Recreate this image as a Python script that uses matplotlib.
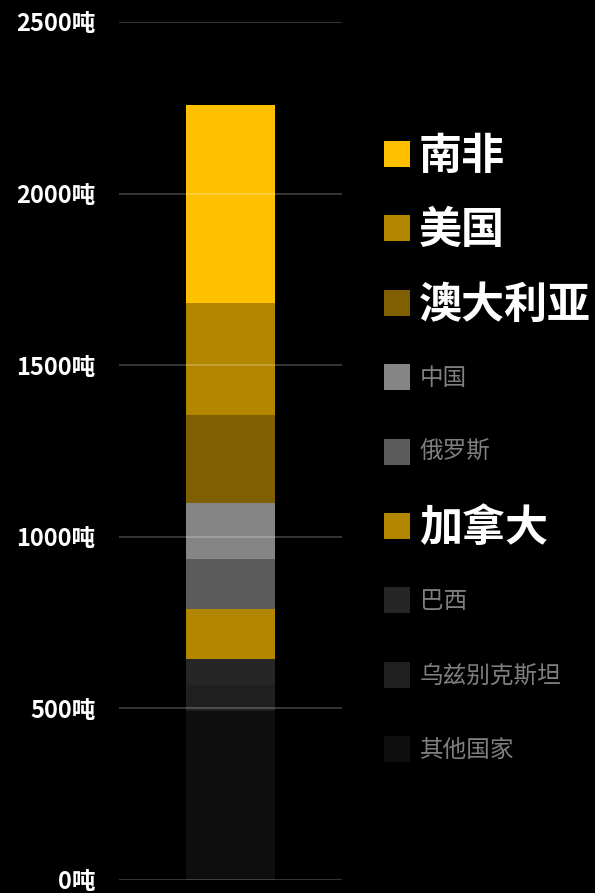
import matplotlib.pyplot as plt
import numpy as np

plt.rcParams['font.family'] = ['Noto Sans CJK SC', 'DejaVu Sans']

# ---------------------------------------------------------------------------
# Data (bottom to top of the stack)
# ---------------------------------------------------------------------------
countries = ['其他国家', '乌兹别克斯坦', '巴西', '加拿大', '俄罗斯',
             '中国', '澳大利亚', '美国', '南非']
values    = [493, 75, 76, 145, 146, 163, 256, 327, 577]
colors    = ['#0e0e0e', '#202020', '#262626', '#b38600', '#5c5c5c',
             '#858585', '#7f5f00', '#b38600', '#ffc000']
highlight = [False, False, False, True, False, False, True, True, True]

yticks      = [0, 500, 1000, 1500, 2000, 2500]
ytick_names = [f'{v}吨' for v in yticks]

# ---------------------------------------------------------------------------
# Plot
# ---------------------------------------------------------------------------
fig = plt.figure(figsize=(5.95, 8.93), dpi=100, facecolor='black')
ax = fig.add_axes([0.2, 0.0149, 0.375, 0.9605], facecolor='black')

bottom = 0
for name, v, c in zip(countries, values, colors):
    ax.bar(0, v, bottom=bottom, width=0.4, color=c, linewidth=0, zorder=2)
    bottom += v

ax.set_xlim(-0.5, 0.5)
ax.set_ylim(0, 2500)
ax.set_xticks([])
ax.set_yticks(yticks)
ax.set_yticklabels(ytick_names, color='white', fontsize=17, fontweight='bold')
ax.tick_params(axis='y', length=0, pad=17)
for s in ax.spines.values():
    s.set_visible(False)
ax.grid(True, axis='y', color='white', alpha=0.25, linewidth=1.2, zorder=3)
ax.set_axisbelow(False)

# Legend, top row = top of the stack
row_y0 = 154
row_step = 74.4
H = 893
for i, (name, c, hl) in enumerate(zip(countries[::-1], colors[::-1], highlight[::-1])):
    yc = 1 - (row_y0 + i * row_step) / H
    fig.patches.append(plt.Rectangle((384 / 595, yc - 13 / H), 26 / 595, 26 / H,
                                     transform=fig.transFigure, color=c,
                                     linewidth=0))
    if hl:
        fig.text(419 / 595, yc - 2 / H, name, color='white', fontsize=31,
                 fontweight='bold', va='center', ha='left')
    else:
        fig.text(420 / 595, yc - 1 / H, name, color='#7f7f7f', fontsize=17,
                 va='center', ha='left')

fig.savefig('out.png', dpi=100, facecolor='black')
